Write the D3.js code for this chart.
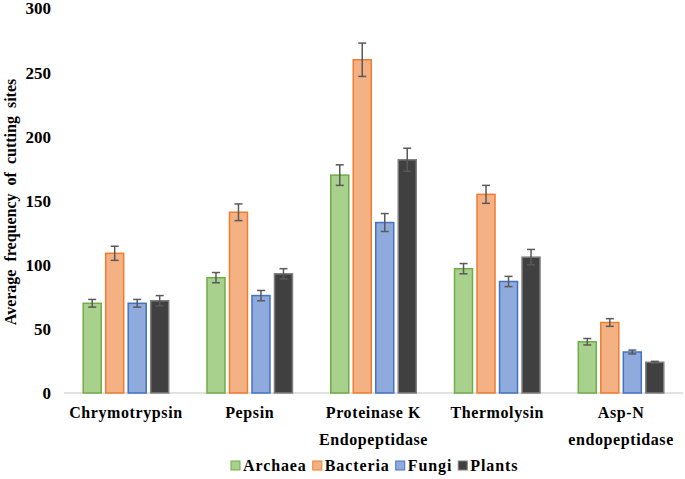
<!DOCTYPE html>
<html><head><meta charset="utf-8">
<script src="https://cdn.jsdelivr.net/npm/d3@7"></script>
</head><body>
<script>
const categories = ["Chrymotrypsin", "Pepsin", "Proteinase K|Endopeptidase", "Thermolysin", "Asp-N|endopeptidase"];
const series = ["Archaea", "Bacteria", "Fungi", "Plants"];
const archaea = [70, 90, 170, 97, 40];
const bacteria = [109, 141, 260, 155, 55];
const fungi = [70, 76, 133, 87, 32];
const plants = [72, 93, 182, 106, 24];
const archaeaErr = [3, 4, 8, 4, 2.5];
const bacteriaErr = [5.5, 6.5, 13, 7, 3];
const fungiErr = [3, 4, 7, 4, 1.5];
const plantsErr = [4, 4, 9, 6, 0.7];
const yTicks = [0, 50, 100, 150, 200, 250, 300];

const values = [archaea, bacteria, fungi, plants];
const errors = [archaeaErr, bacteriaErr, fungiErr, plantsErr];
const fills = ["#a9d18e", "#f4b183", "#8faadc", "#404040"];
const strokes = ["#70ad47", "#ed7d31", "#4472c4", "#7f7f7f"];

const W = 685, H = 479;
const svg = d3.select("body").append("svg").attr("width", W).attr("height", H)
  .style("position", "absolute").style("left", "0px").style("top", "0px");
function tx(sel, size) {
  return sel.style("font-family", '"Liberation Serif"').style("font-weight", "bold").style("font-size", size + "px").attr("fill", "#000");
}

const y = d3.scaleLinear().domain([0, 300]).range([393, 8.5]);
const x0 = d3.scaleBand().domain(categories).range([64, 683]).paddingInner(0.273).paddingOuter(0.137);
const x1 = d3.scaleBand().domain(series).range([0, x0.bandwidth()]).paddingInner(0.2).paddingOuter(0.1);

svg.append("line").attr("x1", 64).attr("x2", 683).attr("y1", y(0)).attr("y2", y(0))
  .attr("stroke", "#d9d9d9").attr("stroke-width", 1.5);

const ga = svg.append("g").attr("transform", "translate(51,0)");
ga.selectAll("text").data(yTicks).join("text")
  .attr("x", 0).attr("y", d => y(d)).attr("dy", "0.35em").attr("text-anchor", "end")
  .call(s => tx(s, 17)).text(d => d);

tx(svg.append("text").attr("transform", "translate(16,202) rotate(-90)")
  .attr("text-anchor", "middle").attr("word-spacing", 4), 16).text("Average frequency of cutting sites");

const groups = svg.selectAll("g.grp").data(categories).join("g").attr("class", "grp")
  .attr("transform", d => `translate(${x0(d)},0)`);
series.forEach((s, si) => {
  groups.append("rect")
    .attr("x", x1(s)).attr("width", x1.bandwidth())
    .attr("y", (d, i) => y(values[si][i])).attr("height", (d, i) => y(0) - y(values[si][i]))
    .attr("fill", fills[si]).attr("stroke", strokes[si]).attr("stroke-width", 1.5);
});
series.forEach((s, si) => {
  groups.each(function(d, i) {
    const g = d3.select(this);
    const cx = x1(s) + x1.bandwidth() / 2;
    const v = values[si][i], e = errors[si][i];
    const col = "#595959";
    g.append("line").attr("x1", cx).attr("x2", cx).attr("y1", y(v + e)).attr("y2", y(v - e)).attr("stroke", col).attr("stroke-width", 1.5);
    g.append("line").attr("x1", cx - 4).attr("x2", cx + 4).attr("y1", y(v + e)).attr("y2", y(v + e)).attr("stroke", col).attr("stroke-width", 1.5);
    g.append("line").attr("x1", cx - 4).attr("x2", cx + 4).attr("y1", y(v - e)).attr("y2", y(v - e)).attr("stroke", col).attr("stroke-width", 1.5);
  });
});

categories.forEach(c => {
  const lines = c.split("|");
  const t = tx(svg.append("text").attr("text-anchor", "middle").attr("letter-spacing", 0.6), 16);
  lines.forEach((l, li) => {
    t.append("tspan").attr("x", x0(c) + x0.bandwidth() / 2).attr("y", 418 + li * 27).text(l);
  });
});

const lg = svg.append("g");
let lx = 231;
series.forEach((s, si) => {
  lg.append("rect").attr("x", lx).attr("y", 461).attr("width", 9).attr("height", 9)
    .attr("fill", fills[si]).attr("stroke", strokes[si]).attr("stroke-width", 1);
  const t = tx(lg.append("text").attr("x", lx + 12).attr("y", 471).attr("letter-spacing", 0.9), 16).text(s);
  lx += 12 + t.node().getComputedTextLength() + 6;
});
</script>
</body></html>
